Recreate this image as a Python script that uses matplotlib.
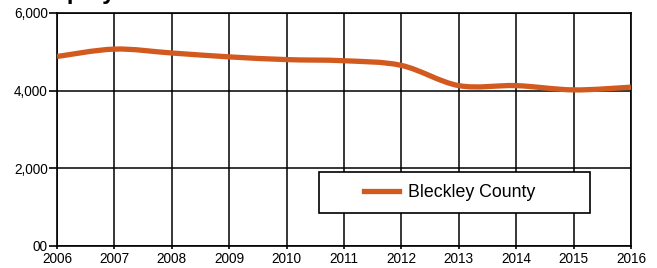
import numpy as np
import matplotlib
matplotlib.use("Agg")
import matplotlib.pyplot as plt
from matplotlib.path import Path
from matplotlib.patches import PathPatch, Rectangle
from matplotlib.lines import Line2D

plt.rcParams['font.family'] = ['Liberation Sans', 'DejaVu Sans']

# datos
anios = [2006, 2007, 2008, 2009, 2010, 2011, 2012, 2013, 2014, 2015, 2016]
empleo = [4880, 5070, 4970, 4870, 4800, 4770, 4650, 4130, 4130, 4020, 4090]
y_ticks = [0, 2000, 4000, 6000]
y_labels = ['00', '2,000', '4,000', '6,000']
serie = 'Bleckley County'
titulo = 'Employment'
color = '#D35A1F'

fig = plt.figure(figsize=(6.57, 2.68), dpi=100)
ax = fig.add_axes([0.0868, 0.0821, 0.8736, 0.8694])

# curva suave (catmull-rom -> bezier) a traves de los puntos
x = np.array(anios, dtype=float)
y = np.array(empleo, dtype=float)
verts = [(x[0], y[0])]
codes = [Path.MOVETO]
for k in range(len(x) - 1):
    x0, y0 = (x[k-1], y[k-1]) if k > 0 else (x[k], y[k])
    x3, y3 = (x[k+2], y[k+2]) if k + 2 < len(x) else (x[k+1], y[k+1])
    c1 = (x[k] + (x[k+1] - x0) / 6, y[k] + (y[k+1] - y0) / 6)
    c2 = (x[k+1] - (x3 - x[k]) / 6, y[k+1] - (y3 - y[k]) / 6)
    verts += [c1, c2, (x[k+1], y[k+1])]
    codes += [Path.CURVE4] * 3
ax.add_patch(PathPatch(Path(verts, codes), facecolor='none', edgecolor=color,
                       lw=3.8, capstyle='butt', zorder=3))

ax.set_xlim(2006, 2016)
ax.set_ylim(0, 6000)
ax.set_xticks(anios)
ax.set_xticklabels([str(a) for a in anios], fontsize=9.8)
ax.set_yticks(y_ticks)
ax.set_yticklabels(y_labels, fontsize=9.8)
ax.grid(True, color='black', lw=1.1)
ax.set_axisbelow(True)
for s in ax.spines.values():
    s.set_linewidth(1.2)
ax.tick_params(axis='y', length=6, width=1.2, pad=0.5)
ax.tick_params(axis='x', length=2.5, width=1.2, pad=2)

# leyenda
ax.add_patch(Rectangle((0.456, 0.142), 0.473, 0.176, transform=ax.transAxes,
                       facecolor='white', edgecolor='black', lw=1.2, zorder=4))
ax.legend([Line2D([], [], color=color, lw=3.8)], [serie], loc='center',
          bbox_to_anchor=(0.684, 0.23), frameon=False, fontsize=12.8,
          handlelength=2.0, handletextpad=0.5).set_zorder(5)

# titulo (cortado arriba, como en el original)
fig.text(0.046, 1.004, titulo, fontsize=17, fontweight='bold', va='baseline')

plt.savefig('out.png', dpi=100)
plt.close('all')
